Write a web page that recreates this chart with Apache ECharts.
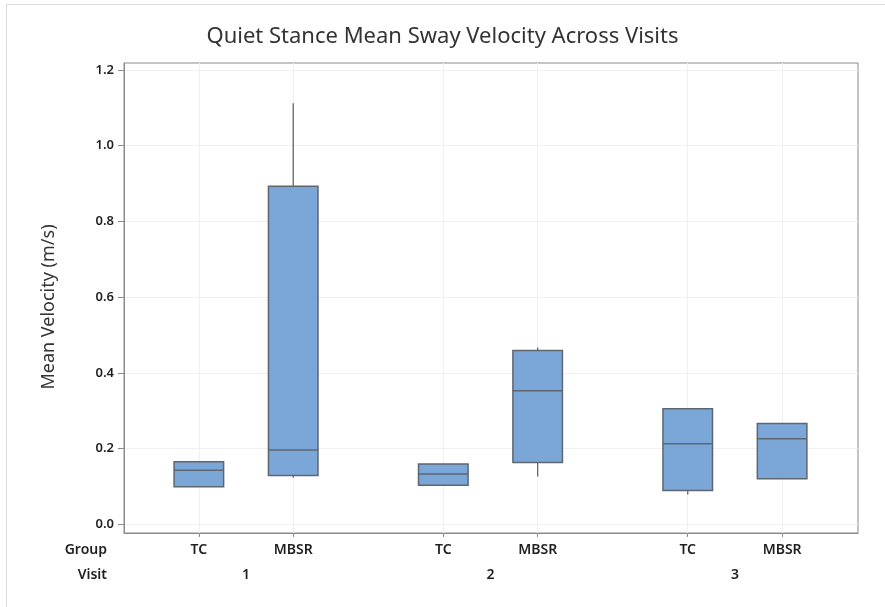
<!DOCTYPE html>
<html>
<head>
<meta charset="utf-8">
<script src="https://cdn.jsdelivr.net/npm/echarts@6/dist/echarts.min.js"></script>
<style>
html,body{margin:0;padding:0;background:#fff;}
#c{width:885px;height:607px;}
</style>
</head>
<body>
<div id="c"></div>
<script>
// ---- data ----
var visits = ['1', '2', '3'];
var groups = ['TC', 'MBSR'];
var yTicks = [0.0, 0.2, 0.4, 0.6, 0.8, 1.0, 1.2];

var tcMin = [0.099, 0.103, 0.079];
var tcQ1  = [0.099, 0.103, 0.089];
var tcMed = [0.143, 0.133, 0.213];
var tcQ3  = [0.165, 0.159, 0.305];
var tcMax = [0.165, 0.159, 0.305];

var mbsrMin = [0.123, 0.126, 0.120];
var mbsrQ1  = [0.129, 0.163, 0.120];
var mbsrMed = [0.196, 0.353, 0.226];
var mbsrQ3  = [0.893, 0.459, 0.266];
var mbsrMax = [1.112, 0.467, 0.266];

// ---- layout helpers (not data) ----
var groupStep = 2.59;      // distance between visit clusters, in member units
var boxWidthUnits = 0.525;
function pos(v, g) { return v * groupStep + (g === 0 ? -0.5 : 0.5); }

var stats = [
  [tcMin, tcQ1, tcMed, tcQ3, tcMax],
  [mbsrMin, mbsrQ1, mbsrMed, mbsrQ3, mbsrMax]
];
var boxData = [];
var tickPos = [], tickName = [];
var visitPos = [];
for (var v = 0; v < visits.length; v++) {
  for (var g = 0; g < groups.length; g++) {
    var s = stats[g];
    var x = pos(v, g);
    boxData.push([x, s[0][v], s[1][v], s[2][v], s[3][v], s[4][v]]);
    tickPos.push(x);
    tickName.push(groups[g]);
  }
  visitPos.push(v * groupStep);
}
function nameAt(arr, names, val) {
  for (var i = 0; i < arr.length; i++) if (Math.abs(arr[i] - val) < 1e-6) return names[i];
  return '';
}

var FONT = 'Noto Sans';
var frameColor = '#8a8a8a';
var gridColor = '#f0f0f0';
var textColor = '#1f1f1f';
var xMin = pos(0, 0) - 0.793;
var xMax = pos(visits.length - 1, 1) + 0.804;

var chart = echarts.init(document.getElementById('c'), null, {renderer: 'canvas'});
chart.setOption({
  backgroundColor: '#ffffff',
  animation: false,
  title: {
    text: 'Quiet Stance Mean Sway Velocity Across Visits',
    left: 'center', top: 21,
    textStyle: {fontFamily: FONT, fontSize: 22, fontWeight: 'normal', color: '#333333'}
  },
  grid: {
    left: 124, right: 27, top: 63, bottom: 74,
    show: true, borderColor: frameColor, borderWidth: 1, backgroundColor: 'transparent'
  },
  xAxis: [{
    type: 'value', min: xMin, max: xMax,
    axisLine: {show: true, onZero: false, lineStyle: {color: frameColor, width: 1}},
    axisTick: {show: true, inside: false, length: 4, customValues: tickPos, lineStyle: {color: frameColor}},
    axisLabel: {
      customValues: tickPos, margin: 10,
      formatter: function (val) { return nameAt(tickPos, tickName, val); },
      fontFamily: FONT, fontSize: 14, fontWeight: 600, color: textColor
    },
    splitLine: {show: true, lineStyle: {color: gridColor, width: 1}}
  }, {
    type: 'value', position: 'bottom', min: xMin, max: xMax,
    axisLine: {show: false, onZero: false}, axisTick: {show: false}, splitLine: {show: false},
    axisLabel: {
      customValues: visitPos, margin: 35,
      formatter: function (val) { return nameAt(visitPos, visits, val); },
      fontFamily: FONT, fontSize: 14, fontWeight: 600, color: textColor
    }
  }],
  yAxis: {
    type: 'value',
    min: -0.023, max: 1.2185,
    name: 'Mean Velocity (m/s)',
    nameLocation: 'middle', nameGap: 66,
    nameTextStyle: {fontFamily: FONT, fontSize: 18, color: '#333333', padding: [0, 18, 0, 0]},
    axisLine: {show: true, onZero: false, lineStyle: {color: frameColor, width: 1}},
    axisTick: {show: true, inside: false, length: 6, customValues: yTicks, lineStyle: {color: frameColor}},
    axisLabel: {
      customValues: yTicks, margin: 10,
      formatter: function (val) { return val.toFixed(1); },
      fontFamily: FONT, fontSize: 13, fontWeight: 600, color: textColor
    },
    splitLine: {show: true, lineStyle: {color: gridColor, width: 1}}
  },
  graphic: [
    {type: 'line', shape: {x1: 6, y1: 4.5, x2: 885, y2: 4.5}, style: {stroke: '#dadada', lineWidth: 1}, silent: true},
    {type: 'line', shape: {x1: 6.5, y1: 4.5, x2: 6.5, y2: 607}, style: {stroke: '#dadada', lineWidth: 1}, silent: true},
    {type: 'text', style: {text: 'Group', x: 107, y: 550, align: 'right', verticalAlign: 'middle',
      font: '600 14px "Noto Sans"', fill: textColor}},
    {type: 'text', style: {text: 'Visit', x: 107, y: 575, align: 'right', verticalAlign: 'middle',
      font: '600 14px "Noto Sans"', fill: textColor}}
  ],
  series: [{
    type: 'custom',
    data: boxData,
    encode: {x: 0, y: [1, 2, 3, 4, 5]},
    renderItem: function (params, api) {
      var x = api.value(0);
      var pMin = api.coord([x, api.value(1)]);
      var pQ1 = api.coord([x, api.value(2)]);
      var pMed = api.coord([x, api.value(3)]);
      var pQ3 = api.coord([x, api.value(4)]);
      var pMax = api.coord([x, api.value(5)]);
      var half = api.size([boxWidthUnits, 0])[0] / 2;
      var stroke = '#5e6670';
      var children = [];
      if (api.value(5) > api.value(4)) {
        children.push({type: 'line', shape: {x1: pQ3[0], y1: pQ3[1], x2: pMax[0], y2: pMax[1]},
          style: {stroke: stroke, lineWidth: 1.3}});
      }
      if (api.value(1) < api.value(2)) {
        children.push({type: 'line', shape: {x1: pQ1[0], y1: pQ1[1], x2: pMin[0], y2: pMin[1]},
          style: {stroke: stroke, lineWidth: 1.3}});
      }
      children.push({type: 'rect',
        shape: {x: pQ3[0] - half, y: pQ3[1], width: half * 2, height: pQ1[1] - pQ3[1]},
        style: {fill: '#7ba6d8', stroke: stroke, lineWidth: 1.5}});
      children.push({type: 'line',
        shape: {x1: pMed[0] - half, y1: pMed[1], x2: pMed[0] + half, y2: pMed[1]},
        style: {stroke: stroke, lineWidth: 1.5}});
      return {type: 'group', children: children};
    }
  }]
});
</script>
</body>
</html>
